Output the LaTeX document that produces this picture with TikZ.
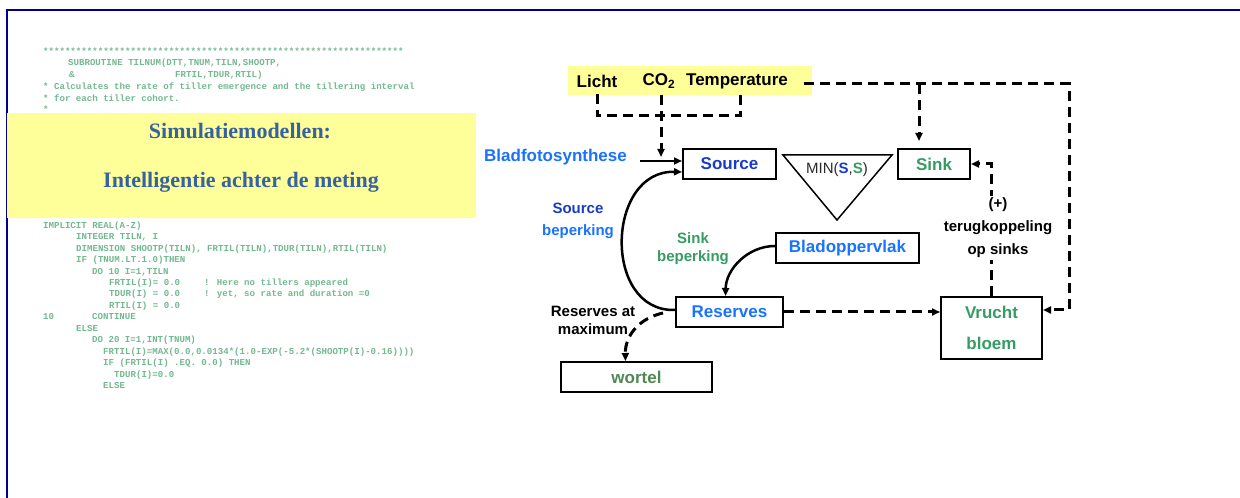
\documentclass[tikz,border=0pt]{standalone}
\usepackage{fontspec}
\setmainfont{Liberation Sans}
\newfontfamily\codefont{Liberation Mono}
\newfontfamily\titlefont{Liberation Serif}
\usetikzlibrary{arrows.meta}
\definecolor{frameblue}{RGB}{0,0,140}
\definecolor{codegreen}{RGB}{115,185,145}
\definecolor{titleblue}{RGB}{55,98,160}
\definecolor{hiyellow}{RGB}{255,255,153}
\definecolor{darkblue}{RGB}{25,60,200}
\definecolor{lightblue}{RGB}{25,115,255}
\definecolor{sinkgreen}{RGB}{55,155,100}
\definecolor{rootgreen}{RGB}{80,135,85}
\definecolor{mingray}{RGB}{40,40,40}
\begin{document}
\begin{tikzpicture}[x=1bp,y=-1bp,
  code/.style={font={\codefont\bfseries\fontsize{9.1bp}{11bp}\selectfont}, text=codegreen, anchor=west, inner sep=0pt, text height=6bp, text depth=1.5bp},
  ttl/.style={font={\titlefont\bfseries\fontsize{22bp}{26bp}\selectfont}, text=titleblue, inner sep=0pt},
  box/.style={draw, line width=2bp, inner sep=0pt, align=center, font={\bfseries\fontsize{17bp}{31bp}\selectfont}},
  big/.style={font={\bfseries\fontsize{17bp}{20bp}\selectfont}, inner sep=0pt},
  lab/.style={font={\bfseries\fontsize{15bp}{18bp}\selectfont}, align=center, inner sep=0pt},
  dl/.style={line width=3bp, dash pattern=on 10bp off 6bp},
  sl/.style={line width=2.5bp},
  >={Triangle[length=8bp,width=7bp]}
]
\fill[white] (0,0) rectangle (1240,498);
\useasboundingbox (0,0) rectangle (1240,498);
\draw[frameblue, line width=2.2bp] (1240,10) -- (7,10) -- (7,498);

% code, upper part
\node[code] (c1) at (43,52) {******************************************************************};
\node[code] (c2) at (68,63) {SUBROUTINE TILNUM(DTT,TNUM,TILN,SHOOTP,};
\node[code] (c3a) at (69,75) {\&};
\node[code] (c3b) at (175,75) {FRTIL,TDUR,RTIL)};
\node[code] (c4) at (43,87) {* Calculates the rate of tiller emergence and the tillering interval};
\node[code] (c5) at (43,99) {* for each tiller cohort.};
\node[code] (c6) at (43,110) {*};

% title box
\fill[hiyellow] (7,113) rectangle (476,218);
\node[ttl] (t1) at (240,131) {Simulatiemodellen:};
\node[ttl] (t2) at (241,182) {Intelligentie achter de meting};

% code, lower part
\node[code] (d1) at (43,226) {IMPLICIT REAL(A-Z)};
\node[code] (d2) at (76,237) {INTEGER TILN, I};
\node[code] (d3) at (76,249) {DIMENSION SHOOTP(TILN), FRTIL(TILN),TDUR(TILN),RTIL(TILN)};
\node[code] (d4) at (76,260) {IF (TNUM.LT.1.0)THEN};
\node[code] (d5) at (92,272) {DO 10 I=1,TILN};
\node[code] (d6a) at (109,283) {FRTIL(I)= 0.0};
\node[code] (d6b) at (204,283) {! Here no tillers appeared};
\node[code] (d7a) at (109,294) {TDUR(I) = 0.0};
\node[code] (d7b) at (204,294) {! yet, so rate and duration =0};
\node[code] (d8) at (109,306) {RTIL(I) = 0.0};
\node[code] (d9a) at (43,317) {10};
\node[code] (d9b) at (92,317) {CONTINUE};
\node[code] (d10) at (76,329) {ELSE};
\node[code] (d11) at (92,340) {DO 20 I=1,INT(TNUM)};
\node[code] (d12) at (103,352) {FRTIL(I)=MAX(0.0,0.0134*(1.0-EXP(-5.2*(SHOOTP(I)-0.16))))};
\node[code] (d13) at (103,363) {IF (FRTIL(I) .EQ. 0.0) THEN};
\node[code] (d14) at (114,375) {TDUR(I)=0.0};
\node[code] (d15) at (103,386) {ELSE};

% environment
\fill[hiyellow] (568,66) rectangle (812,95);
\node[big] (licht) at (597,81) {Licht};
\node[big] (co2) at (659,81) {CO\textsubscript{2}};
\node[big] (temp) at (737,81) {Temperature};

% boxes
\node[box, minimum width=93bp, minimum height=30bp, text=darkblue] (src) at (729.5,164) {Source};
\node[box, minimum width=72bp, minimum height=30bp, text=sinkgreen] (snk) at (934,164) {Sink};
\node[box, minimum width=143bp, minimum height=30bp, text=lightblue] (blad) at (847.5,248) {Bladoppervlak};
\node[box, minimum width=107bp, minimum height=30bp, text=lightblue] (res) at (729.5,312) {Reserves};
\node[box, minimum width=151bp, minimum height=30bp, text=rootgreen] (wor) at (636.5,377) {wortel};
\node[box, minimum width=101bp, minimum height=62bp, text=sinkgreen] (vr) at (991.5,328) {Vrucht\\bloem};

% MIN triangle
\draw[line width=1.5bp] (783,155) -- (892,155) -- (837,220) -- cycle;
\node[inner sep=0pt, text=mingray, font={\fontsize{15bp}{18bp}\selectfont}] (min) at (837,170) {MIN(\textbf{\color{darkblue}S},\textbf{\color{sinkgreen}S})};

% labels
\node[big, text=lightblue] (bf) at (555.5,157) {Bladfotosynthese};
\node[lab, font={\bfseries\fontsize{15bp}{22bp}\selectfont}] (sbep) at (578,221) {{\color{darkblue}Source}\\{\color{lightblue}beperking}};
\node[lab, text=sinkgreen] (kbep) at (693,249) {Sink\\beperking};
\node[lab] (resmax) at (593,320) {Reserves at\\maximum};

% connectors
\coordinate (bfs) at (640,161);
\draw[sl,->] (bfs) -- (bfs -| src.west);
\coordinate (co2t) at (661,95);
\coordinate (co2e) at (661,157);
\draw[dl,->] (co2t) -- (co2e);
\coordinate (lb) at (597,94);
\coordinate (tb) at (740,94);
\coordinate (brk) at (668,116);
\draw[dl] (lb) |- (brk) -| (tb);

\coordinate (envr) at (804,84);
\coordinate (corner) at (1069,84);
\coordinate (sb) at (919,84);
\coordinate (vin) at ([yshift=18bp]vr.east);
\draw[dl,->] (envr) -- (corner) -- (corner |- vin) -- (vin);
\draw[dl,->,shorten >=7bp] (sb) -- (sb |- snk.north);

\draw[dl,->] (vr.north) |- (snk.east);
\node[lab, fill=white, font={\bfseries\fontsize{15bp}{23bp}\selectfont}, inner ysep=2bp] (fb) at (998,228) {(+)\\terugkoppeling\\op sinks};

\draw[dl,->] (res.east) -- (res.east -| vr.west);

\draw[sl,->] ([yshift=2bp]blad.west) .. controls (748,246) and (726,269) .. ([xshift=-4bp]res.north);
\draw[sl,->] ([yshift=2bp]res.west) .. controls (602,312) and (606,170) .. ([yshift=-8bp]src.west);

\coordinate (rw) at (663,313);
\draw[dl,->] (rw) .. controls (640,318) and (625,335) .. ([xshift=-11bp]wor.north);
\end{tikzpicture}
\end{document}
